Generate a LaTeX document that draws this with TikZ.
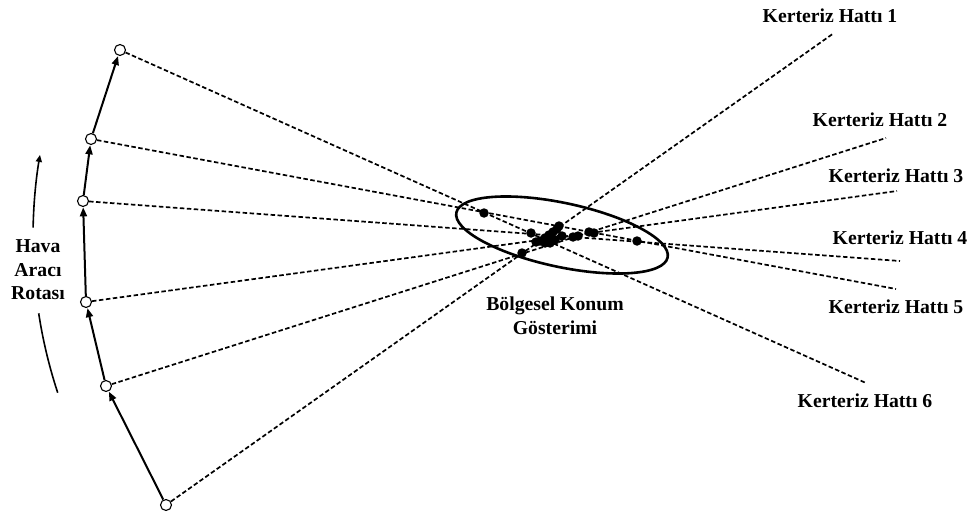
\documentclass[tikz,border=0pt]{standalone}
\usepackage{fontspec}
\setmainfont{Liberation Serif}
\usetikzlibrary{arrows.meta,shapes.geometric}
\tikzset{
  plane/.style={circle,draw,fill=white,line width=1.1pt,minimum size=11pt,inner sep=0pt},
  fix/.style={circle,fill=black,minimum size=9.5pt,inner sep=0pt},
  bearing/.style={dashed,dash pattern=on 4.5pt off 2.5pt,line width=1.7pt},
  route/.style={line width=2pt,-{Triangle[length=9pt,width=7pt]},shorten >=0.3pt},
  lbl/.style={font=\bfseries\fontsize{19.7}{23.5}\selectfont,align=center,inner sep=0pt},
  region/.style={ellipse,draw,line width=2.6pt,minimum width=216pt,minimum height=64pt,inner sep=0pt}
}
\begin{document}
\begin{tikzpicture}[x=1pt,y=-1pt]
\useasboundingbox (0,0) rectangle (971,513);
% region ellipse
\node[region,rotate=-12] (reg) at (562,235) {};
% aircraft positions
\node[plane] (p1) at (166,505) {};
\node[plane] (p2) at (106,386) {};
\node[plane] (p3) at (86,302) {};
\node[plane] (p4) at (83,201) {};
\node[plane] (p5) at (91,139) {};
\node[plane] (p6) at (120,50) {};
% line ends
\coordinate (e1) at (834,33);
\coordinate (e2) at (886,138);
\coordinate (e3) at (897,191);
\coordinate (e4) at (900,261);
\coordinate (e5) at (896,289);
\coordinate (e6) at (866,383);
% bearing lines
\draw[bearing] (p1) -- (e1);
\draw[bearing] (p2) -- (e2);
\draw[bearing] (p3) -- (e3);
\draw[bearing] (p4) -- (e4);
\draw[bearing] (p5) -- (e5);
\draw[bearing] (p6) -- (e6);
% route
\draw[route] (p1) -- (p2);
\draw[route] (p2) -- (p3);
\draw[route] (p3) -- (p4);
\draw[route] (p4) -- (p5);
\draw[route] (p5) -- (p6);
% fixes
\foreach \n/\x/\y in {f1/484/213, f2/531/233, f3/522/253, f4/540/241, f5/545/238, f6/549/235,
  f7/553/232, f8/557/229, f9/559/226, f10/555/240, f11/550/243, f12/562/236, f13/573/237,
  f14/578/236, f15/589/232, f16/594/233, f17/637/241, f18/545/243, f19/536/242}
  \node[fix] (\n) at (\x,\y) {};
% labels
\node[lbl] (k1) at (830,16) {Kerteriz Hattı 1};
\node[lbl] (k2) at (880,120) {Kerteriz Hattı 2};
\node[lbl] (k3) at (896,176) {Kerteriz Hattı 3};
\node[lbl] (k4) at (900,238) {Kerteriz Hattı 4};
\node[lbl] (k5) at (896,307) {Kerteriz Hattı 5};
\node[lbl] (k6) at (865,401) {Kerteriz Hattı 6};
\node[lbl] (bk) at (555,316) {Bölgesel Konum\\Gösterimi};
\node[lbl] (hr) at (38,270) {Hava\\Aracı\\Rotası};
% route direction arc
\coordinate (a1) at (57.7,392.7);
\coordinate (a2) at (38.7,313.3);
\coordinate (a3) at (33.1,227.6);
\coordinate (a4) at (40.0,154.9);
\draw[line width=1.6pt] (a1) .. controls (49.2,366.8) and (42.8,340.2) .. (a2);
\draw[line width=1.6pt,-{Triangle[length=7pt,width=6pt]}] (a3) .. controls (33.6,203.3) and (35.9,178.9) .. (a4);
\end{tikzpicture}
\end{document}
